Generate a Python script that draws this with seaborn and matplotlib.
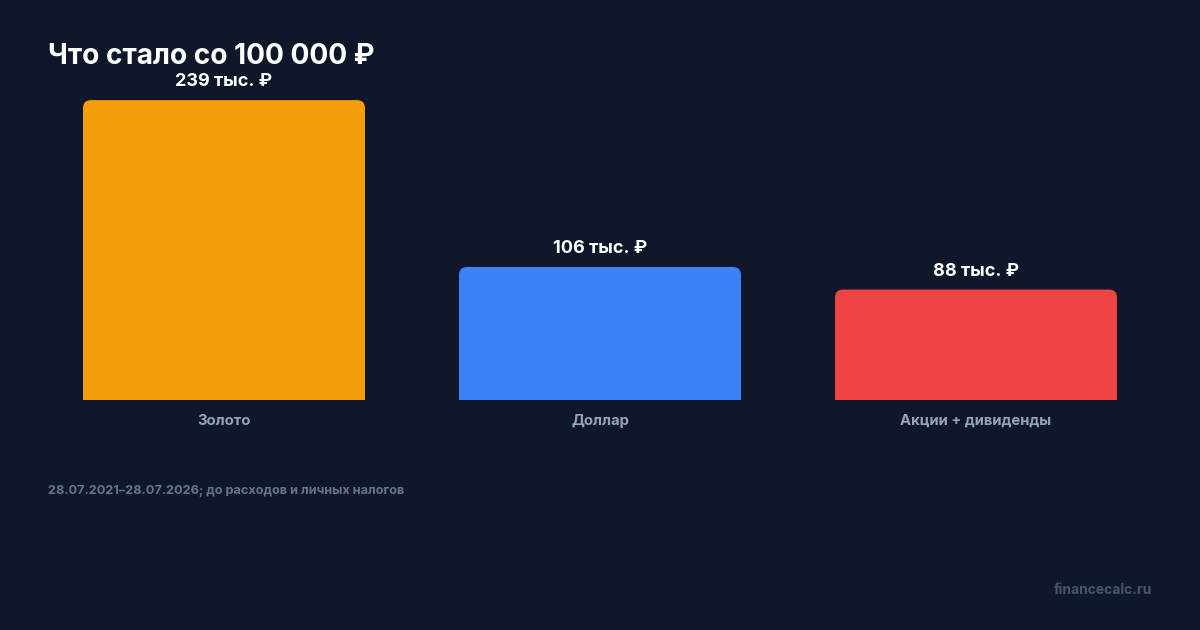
import seaborn as sns
import matplotlib.pyplot as plt
import pandas as pd
from matplotlib.patches import FancyBboxPatch, Rectangle

# Data
categories = ["Золото", "Доллар", "Акции + дивиденды"]
values = [239, 106, 88]          # тыс. ₽ from 100 000 ₽
bar_labels = ["239 тыс. ₽", "106 тыс. ₽", "88 тыс. ₽"]
bar_colors = ["#f59e0b", "#3b82f6", "#ef4444"]

title = "Что стало со 100 000 ₽"
footnote = "28.07.2021–28.07.2026; до расходов и личных налогов"
watermark = "financecalc.ru"

bg = "#0f172a"

sns.set_style("dark")
plt.rcParams['font.family'] = ['Inter', 'DejaVu Sans']

df = pd.DataFrame({"category": categories, "value": values})

fig = plt.figure(figsize=(12, 6.3), dpi=100, facecolor=bg)
ax = fig.add_axes([0.03, 0.3651, 0.94, 0.5397])
ax.set_facecolor(bg)

sns.barplot(data=df, x="category", y="value", hue="category",
            palette=bar_colors, width=0.75, saturation=1, legend=False, ax=ax)

ax.set_xlim(-0.5, 2.5)
ax.set_ylim(0, 271)

# rounded top corners: swap seaborn's bars for rounded boxes of the same size
xpp = 3 / 1128
ypp = 271 / 340
r = 8 * xpp
for patch in list(ax.patches):
    x, y = patch.get_x(), patch.get_y()
    w, h = patch.get_width(), patch.get_height()
    c = patch.get_facecolor()
    patch.remove()
    ax.add_patch(FancyBboxPatch((x, y), w, h,
                                boxstyle=f"round,pad=0,rounding_size={r}",
                                mutation_aspect=ypp / xpp,
                                facecolor=c, edgecolor="none", linewidth=0))
    ax.add_patch(Rectangle((x, y), w, h / 2, facecolor=c, edgecolor="none", linewidth=0))

for i, (v, lab) in enumerate(zip(values, bar_labels)):
    ax.annotate(lab, (i, v), xytext=(0, 7), textcoords="offset points",
                ha="center", va="bottom", color="white", fontsize=13, fontweight="bold")

ax.set_xlabel("")
ax.set_ylabel("")
ax.set_yticks([])
ax.tick_params(axis="x", length=0, pad=10, labelsize=10.7, labelcolor="#94a3b8")
for t in ax.get_xticklabels():
    t.set_fontweight("bold")
ax.grid(False)
for s in ax.spines.values():
    s.set_visible(False)

fig.text(48 / 1200, 1 - 57 / 630, title, color="white", fontsize=20.2,
         fontweight="bold", ha="left", va="center")
fig.text(48 / 1200, 1 - 491 / 630, footnote, color="#64748b", fontsize=9.2,
         fontweight="bold", ha="left", va="center")
fig.text(1152 / 1200, 1 - 590 / 630, watermark, color="#475569", fontsize=10,
         fontweight="bold", ha="right", va="center")

fig.savefig("out.png", dpi=100, facecolor=bg)
plt.close(fig)
